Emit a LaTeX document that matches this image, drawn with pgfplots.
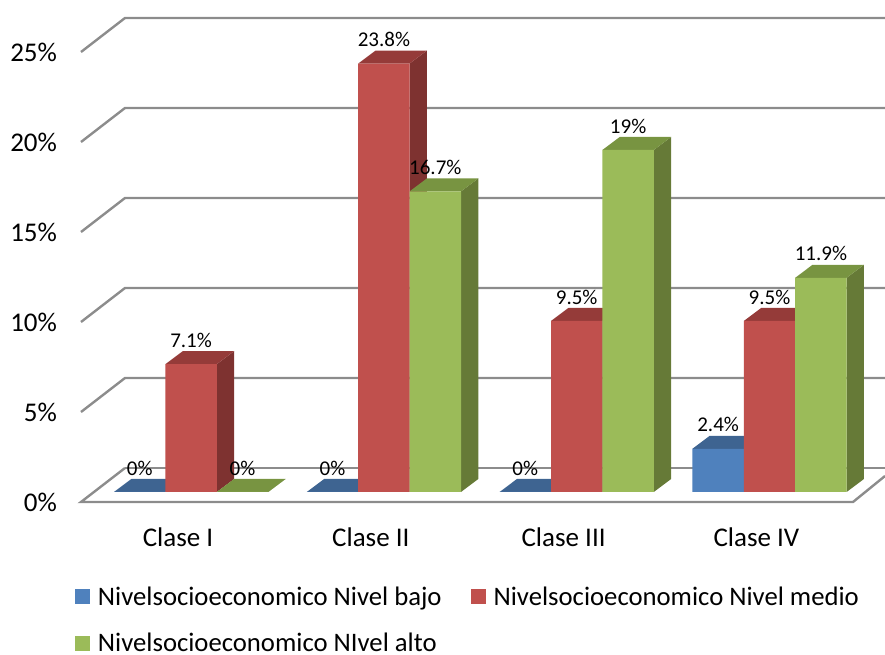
\documentclass[border=0pt]{standalone}
\usepackage{pgfplots}
\pgfplotsset{compat=1.18}
\usepackage{fontspec}
\setmainfont{Carlito}

\definecolor{gridgray}{HTML}{8C8C8C}
\definecolor{blueF}{HTML}{4F81BD}
\definecolor{blueT}{HTML}{3E6491}
\definecolor{blueS}{HTML}{2F4B70}
\definecolor{redF}{HTML}{C0504D}
\definecolor{redT}{HTML}{953B39}
\definecolor{redS}{HTML}{7E3230}
\definecolor{greenF}{HTML}{9BBB59}
\definecolor{greenT}{HTML}{789441}
\definecolor{greenS}{HTML}{667A37}

% depth of a bar: 17.3 units across, 13 px = 0.722 percent up
\newcommand{\barfaces}[4]{% left edge, value, side colour, top colour
  \pgfmathsetmacro\xb{#1+51.4}
  \pgfmathsetmacro\xc{#1+51.4+17.3}
  \pgfmathsetmacro\xd{#1+17.3}
  \pgfmathsetmacro\yt{#2+0.722}
  \addplot[fill=#3,draw=none,forget plot] coordinates {(\xb,0)(\xb,#2)(\xc,\yt)(\xc,0.722)} --cycle;
  \addplot[fill=#4,draw=none,forget plot] coordinates {(#1,#2)(\xb,#2)(\xc,\yt)(\xd,\yt)} --cycle;
}
% one wall gridline with its slanted part on the side wall
\newcommand{\wallline}[1]{%
  \pgfmathsetmacro\yf{#1-0.556}
  \pgfmathsetmacro\yk{#1+1.333}
  \addplot[gridgray,line width=2.4pt,forget plot] coordinates {(81,\yf)(125,\yk)(885,\yk)};
}

\begin{document}
\begin{tikzpicture}
\begin{axis}[
  scale only axis,
  width=885pt,
  height=655pt,
  xmin=0, xmax=885,
  ymin=-9.0556, ymax=27.3333,
  axis line style={draw=none},
  major tick length=0pt,
  tick style={draw=none},
  xtick={178,370.8,563.6,756.4},
  xticklabels={Clase I,Clase II,Clase III,Clase IV},
  xticklabel style={anchor=center,yshift=118pt,font=\fontsize{27}{27}\selectfont},
  ytick={0,5,10,15,20,25},
  /pgf/number format/assume math mode=true,
  yticklabel={\pgfmathprintnumber{\tick}\%},
  yticklabel style={anchor=east,xshift=60.5pt,yshift=-10.3pt,font=\fontsize{27}{27}\selectfont},
  legend style={
    at={(0.0847,0.1039)},anchor=north west,
    draw=none,fill=none,inner sep=0pt,outer sep=0pt,
    font=\fontsize{26.7}{26.7}\selectfont,
    legend columns=2,
    row sep=26pt,
    /tikz/every even column/.append style={column sep=29pt},
    nodes={inner sep=0pt},
  },
  legend cell align=left,
  legend image code/.code={\fill[#1,draw=none] (0pt,-7.5pt) rectangle (15pt,7.5pt);},
  every node near coord/.append style={anchor=center,yshift=24pt,font=\fontsize{21}{21}\selectfont,text=black},
]
\addlegendimage{fill=blueF}
\addlegendentry{\hspace{8pt}Nivelsocioeconomico Nivel bajo}
\addlegendimage{fill=redF}
\addlegendentry{\hspace{8pt}Nivelsocioeconomico Nivel medio}
\addlegendimage{fill=greenF}
\addlegendentry{\hspace{8pt}Nivelsocioeconomico NIvel alto}

% walls and floor
\wallline{5}\wallline{10}\wallline{15}\wallline{20}\wallline{25}
\addplot[gridgray,line width=2.4pt,forget plot] coordinates {(125,1.333)(885,1.333)};
\addplot[gridgray,line width=2.4pt,forget plot] coordinates {(125,1.333)(81,-0.556)(853,-0.556)(885,0.889)};

% Nivel bajo
\barfaces{114}{0}{blueS}{blueT}
\barfaces{306.8}{0}{blueS}{blueT}
\barfaces{499.6}{0}{blueS}{blueT}
\barfaces{692.4}{2.4}{blueS}{blueT}
\addplot[ybar,bar width=51.4pt,bar shift=0pt,fill=blueF,draw=none,forget plot,
  nodes near coords={\pgfmathprintnumber\pgfplotspointmeta\%}] table[x=x,y=v] {
  x v
  139.7 0
  332.5 0
  525.3 0
  718.1 2.4
};

% Nivel medio
\barfaces{165.4}{7.1}{redS}{redT}
\barfaces{358.2}{23.8}{redS}{redT}
\barfaces{551}{9.5}{redS}{redT}
\barfaces{743.8}{9.5}{redS}{redT}
\addplot[ybar,bar width=51.4pt,bar shift=0pt,fill=redF,draw=none,forget plot,
  nodes near coords={\pgfmathprintnumber\pgfplotspointmeta\%}] table[x=x,y=v] {
  x v
  191.1 7.1
  383.9 23.8
  576.7 9.5
  769.5 9.5
};

% Nivel alto
\barfaces{216.8}{0}{greenS}{greenT}
\barfaces{409.6}{16.7}{greenS}{greenT}
\barfaces{602.4}{19}{greenS}{greenT}
\barfaces{795.2}{11.9}{greenS}{greenT}
\addplot[ybar,bar width=51.4pt,bar shift=0pt,fill=greenF,draw=none,forget plot,
  nodes near coords={\pgfmathprintnumber\pgfplotspointmeta\%}] table[x=x,y=v] {
  x v
  242.5 0
  435.3 16.7
  628.1 19
  820.9 11.9
};
\end{axis}
\end{tikzpicture}
\end{document}
